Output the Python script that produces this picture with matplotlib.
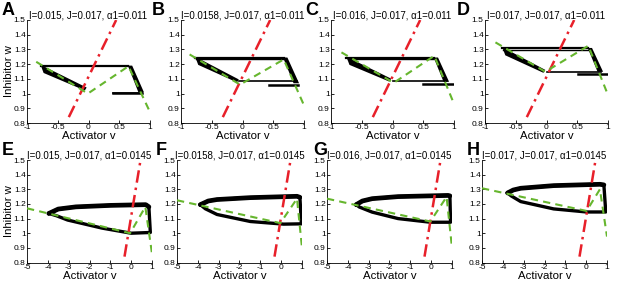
import numpy as np
import matplotlib.pyplot as plt

plt.rcParams['font.family'] = ['Liberation Sans', 'DejaVu Sans']

# panel text
letters = ['A', 'B', 'C', 'D', 'E', 'F', 'G', 'H']
titles = ['I=0.015, J=0.017, \u03b11=0.011', 'I=0.0158, J=0.017, \u03b11=0.011',
          'I=0.016, J=0.017, \u03b11=0.011', 'I=0.017, J=0.017, \u03b11=0.011',
          'I=0.015, J=0.017, \u03b11=0.0145', 'I=0.0158, J=0.017, \u03b11=0.0145',
          'I=0.016, J=0.017, \u03b11=0.0145', 'I=0.017, J=0.017, \u03b11=0.0145']

yticks = [0.8, 0.9, 1.0, 1.1, 1.2, 1.3, 1.4, 1.5]
ytick_labels = ['0.8', '0.9', '1', '1.1', '1.2', '1.3', '1.4', '1.5']
xticks_top = [-1, -0.5, 0, 0.5, 1]
xtick_labels_top = ['-1', '-0.5', '0', '0.5', '1']
xticks_bot = [-5, -4, -3, -2, -1, 0, 1]
xtick_labels_bot = ['-5', '-4', '-3', '-2', '-1', '0', '1']

# red nullcline (same in every panel)
red_v = [-0.32, 0.45]
red_w = [0.84, 1.5]

# green nullcline: left end, minimum, peak, right end
green_v = [[-0.85, -0.01, 0.65, 1.0], [-0.86, -0.04, 0.67, 1.0],
           [-0.83, 0.02, 0.68, 1.0], [-0.83, -0.02, 0.68, 1.0],
           [-5.0, -0.05, 0.68, 1.0], [-5.0, -0.04, 0.76, 1.0],
           [-5.0, -0.04, 0.74, 1.0], [-5.0, 0.02, 0.66, 1.0]]
green_w = [[1.216, 1.0, 1.186, 0.874], [1.266, 1.061, 1.232, 0.92],
           [1.28, 1.073, 1.257, 0.93], [1.348, 1.148, 1.325, 0.99],
           [1.17, 1.0, 1.18, 0.86], [1.225, 1.069, 1.236, 0.9],
           [1.236, 1.08, 1.248, 0.90], [1.307, 1.152, 1.30, 0.977]]

# top row trajectories (relaxation oscillation pieces)
top_w = [1.19, 1.245, 1.245, 1.31]
left_v = [-0.78, -0.77, -0.75, -0.72]
peak_v = [0.65, 0.67, 0.68, 0.68]
knee_v = [-0.03, -0.06, -0.02, -0.02]
knee_w = [1.035, 1.09, 1.095, 1.155]
right_v = [0.87, 0.89, 0.89, 0.89]
right_w = [1.01, 1.07, 1.08, 1.148]
bot_v0 = [0.4, -0.06, 0.0, 0.0]
bot_w = [1.005, 1.084, 1.086, 1.148]
trans_v0 = [0.4, 0.43, 0.49, 0.52]
trans_v1 = [0.87, 0.9, 1.0, 0.98]
trans_w = [1.005, 1.06, 1.068, 1.136]

# bottom row limit cycles
loop_E_v = [-3.95, -3.5, -2.65, -1.0, 0.7, 0.85, 0.92, 0.0, -1.4, -3.05, -3.6, -3.95]
loop_E_w = [1.135, 1.165, 1.18, 1.19, 1.195, 1.18, 1.005, 1.0, 1.035, 1.09, 1.12, 1.135]
loop_F_v = [-3.88, -3.5, -3.08, -1.48, 0.76, 0.9, 0.97, 0.12, -1.48, -3.08, -3.64, -3.88]
loop_F_w = [1.195, 1.22, 1.23, 1.243, 1.252, 1.245, 1.064, 1.062, 1.08, 1.128, 1.167, 1.195]
loop_G_v = [-3.6, -3.3, -2.83, -1.59, 0.81, 0.9, 0.93, -0.04, -1.59, -2.83, -3.45, -3.6]
loop_G_w = [1.195, 1.22, 1.236, 1.25, 1.258, 1.255, 1.075, 1.075, 1.1, 1.144, 1.179, 1.195]
loop_H_v = [-3.77, -3.5, -3.14, -1.56, 0.66, 0.85, 0.94, 0.02, -1.56, -3.14, -3.6, -3.77]
loop_H_w = [1.275, 1.295, 1.307, 1.325, 1.334, 1.33, 1.145, 1.145, 1.166, 1.216, 1.255, 1.275]
loops_v = [loop_E_v, loop_F_v, loop_G_v, loop_H_v]
loops_w = [loop_E_w, loop_F_w, loop_G_w, loop_H_w]

W, H = 617, 283
fig = plt.figure(figsize=(W / 100, H / 100), dpi=100)

top_left = [27, 181, 331, 485]
bot_left = [27, 177, 327, 482]
letter_xy = [(2, 2), (152, 2), (305, 2), (457, 2), (2, 142), (156, 142), (313, 142), (467, 142)]

RED = '#e8202a'
GREEN = '#66b62e'

for k in range(8):
    row = k // 4
    col = k % 4
    if row == 0:
        x0, wpx, ytop, ybot = top_left[col], 123, 20, 123
    else:
        x0, wpx, ytop, ybot = bot_left[col], 125, 160, 262.5
    ax = fig.add_axes([x0 / W, 1 - ybot / H, wpx / W, (ybot - ytop) / H])

    ax.plot(red_v, red_w, color=RED, ls='-.', lw=1.8, zorder=3, dashes=(5, 2, 1, 2))
    ax.plot(green_v[k], green_w[k], color=GREEN, ls='--', lw=1.5, zorder=3, dashes=(3.5, 2.5))

    if row == 0:
        i = col
        # jump along the top
        ax.plot([left_v[i], peak_v[i]], [top_w[i], top_w[i]], color='k', lw=1.6, zorder=2)
        if i > 0:
            ax.plot([left_v[i] + 0.02, peak_v[i]], [top_w[i] - 0.012, top_w[i] - 0.012], color='k', lw=1.0, zorder=2)
        # slow left branch, thick band
        ax.fill([left_v[i], knee_v[i], knee_v[i] - 0.03, left_v[i] + 0.05],
                [top_w[i] + 0.006, knee_w[i] + 0.006, knee_w[i] - 0.014, top_w[i] - 0.05],
                color='k', lw=0, zorder=2)
        # slow right branch, thick band
        ax.fill([peak_v[i] - 0.01, peak_v[i] + 0.06, right_v[i] + 0.03, right_v[i] - 0.06],
                [top_w[i], top_w[i], right_w[i], right_w[i]],
                color='k', lw=0, zorder=2)
        # return jump and transient
        ax.plot([bot_v0[i], right_v[i]], [bot_w[i], bot_w[i]], color='k', lw=1.2, zorder=2)
        ax.plot([trans_v0[i], trans_v1[i]], [trans_w[i], trans_w[i]], color='k', lw=1.8, zorder=2)
        ax.set_xlim(-1, 1)
        ax.set_xticks(xticks_top)
        ax.set_xticklabels(xtick_labels_top)
    else:
        i = col
        ax.plot(loops_v[i], loops_w[i], color='k', lw=2.4, zorder=2, solid_joinstyle='round')
        ax.plot(loops_v[i][:6], loops_w[i][:6], color='k', lw=3.4, zorder=2, solid_capstyle='round')
        ax.set_xlim(-5, 1)
        ax.set_xticks(xticks_bot)
        ax.set_xticklabels(xtick_labels_bot)

    ax.set_ylim(0.8, 1.5)
    ax.set_yticks(yticks)
    ax.set_yticklabels(ytick_labels)
    for s in ['top', 'right']:
        ax.spines[s].set_visible(False)
    for s in ['left', 'bottom']:
        ax.spines[s].set_linewidth(0.6)
    ax.tick_params(direction='in', length=2, width=0.6, labelsize=6, pad=1)
    ax.set_title(titles[k], fontsize=7.0, pad=1)
    ax.set_xlabel('Activator v', fontsize=8.2, labelpad=0)
    ax.xaxis.set_label_coords(0.5, -0.08)
    ax.xaxis.label.set_va('top')
    if col == 0:
        ax.set_ylabel('Inhibitor w', fontsize=8.2)
        ax.yaxis.set_label_coords(-0.105, 0.5)

    lx, ly = letter_xy[k]
    fig.text(lx / W, 1 - ly / H, letters[k], fontsize=13, fontweight='bold', ha='left', va='top')

fig.savefig('out.png', dpi=100)
